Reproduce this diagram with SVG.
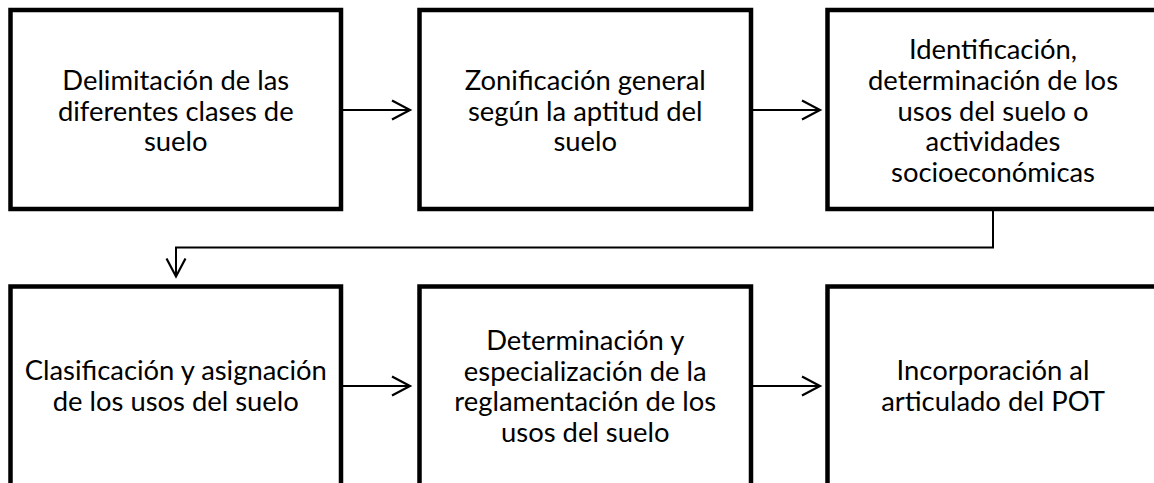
<svg xmlns="http://www.w3.org/2000/svg" width="1154" height="483" viewBox="0 0 1154 483">
<style>
.box{fill:#fff;stroke:#000;stroke-width:4.5}
.lbl{font-family:Lato,"Liberation Sans",sans-serif;font-size:27.4px;fill:#000;text-anchor:middle}
.con{fill:none;stroke:#000;stroke-width:2}
</style>
<defs>
<marker id="arr" markerUnits="userSpaceOnUse" markerWidth="30" markerHeight="30" viewBox="-25 -15 30 30" refX="0" refY="0" orient="auto" overflow="visible">
<path d="M-18,-9.5 L0,0 L-18,9.5" fill="none" stroke="#000" stroke-width="2.2"/>
</marker>
</defs>
<rect width="1154" height="483" fill="#fff"/>
<g id="n1">
<rect class="box" x="10.5" y="10" width="330.5" height="199"/>
<text class="lbl"><tspan x="175.75" y="89.5">Delimitación de las</tspan><tspan x="175.75" y="120.5">diferentes clases de</tspan><tspan x="175.75" y="151">suelo</tspan></text>
</g>
<g id="n2">
<rect class="box" x="419.5" y="10" width="331.5" height="199"/>
<text class="lbl"><tspan x="585.25" y="89.5">Zonificación general</tspan><tspan x="585.25" y="120.5">según la aptitud del</tspan><tspan x="585.25" y="151">suelo</tspan></text>
</g>
<g id="n3">
<rect class="box" x="827.5" y="10" width="331" height="199"/>
<text class="lbl"><tspan x="993" y="58.5">Identificación,</tspan><tspan x="993" y="89.5">determinación de los</tspan><tspan x="993" y="120.5">usos del suelo o</tspan><tspan x="993" y="151">actividades</tspan><tspan x="993" y="181.5">socioeconómicas</tspan></text>
</g>
<g id="n4">
<rect class="box" x="10.5" y="286.5" width="330.5" height="199.5"/>
<text class="lbl"><tspan x="175.75" y="380">Clasificación y asignación</tspan><tspan x="175.75" y="410.5">de los usos del suelo</tspan></text>
</g>
<g id="n5">
<rect class="box" x="419.5" y="286.5" width="331.5" height="199.5"/>
<text class="lbl"><tspan x="585.25" y="350">Determinación y</tspan><tspan x="585.25" y="380.5">especialización de la</tspan><tspan x="585.25" y="411">reglamentación de los</tspan><tspan x="585.25" y="441.5">usos del suelo</tspan></text>
</g>
<g id="n6">
<rect class="box" x="827.5" y="286.5" width="331" height="199.5"/>
<text class="lbl"><tspan x="993" y="380">Incorporación al</tspan><tspan x="993" y="410.5">articulado del POT</tspan></text>
</g>
<g id="connectors">
<path class="con" d="M343,110 H410" marker-end="url(#arr)"/>
<path class="con" d="M753,110 H820" marker-end="url(#arr)"/>
<path class="con" d="M993,211 V247.5 H176 V276.5" marker-end="url(#arr)"/>
<path class="con" d="M343,386 H410" marker-end="url(#arr)"/>
<path class="con" d="M753,386 H820" marker-end="url(#arr)"/>
</g>
</svg>
